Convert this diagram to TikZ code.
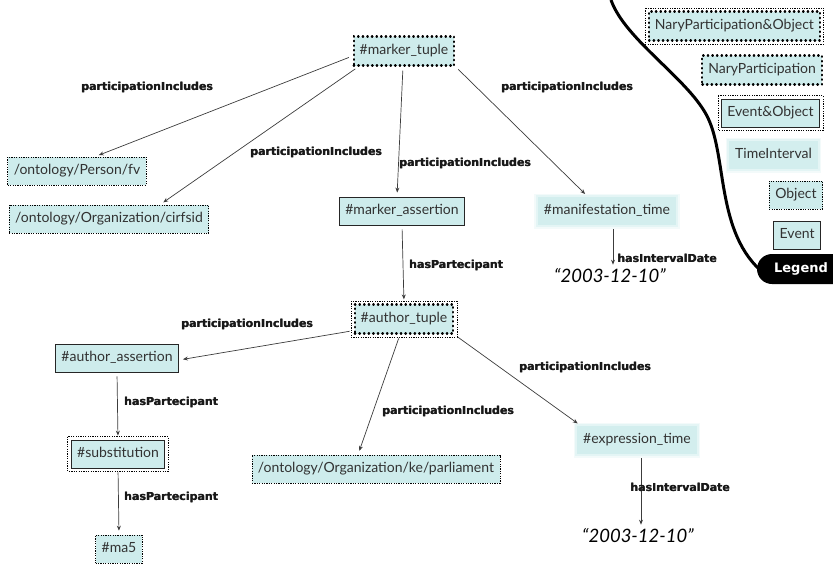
\documentclass[tikz,border=0pt]{standalone}
\usepackage{fontspec}
\setmainfont{Lato}
\newfontfamily\lblfont{DejaVu Sans}
\usetikzlibrary{arrows.meta,calc}
\definecolor{boxc}{RGB}{206,236,236}
\definecolor{txtc}{RGB}{50,50,50}
\definecolor{edgec}{RGB}{60,60,60}
% a heavier look for the bold connector labels: print the text twice, slightly offset
\newcommand{\heavytext}[1]{\rlap{\kern0.4pt #1}#1}

\begin{document}
\begin{tikzpicture}[x=1pt,y=-1pt,
  base/.style={font=\fontsize{14}{16}\selectfont, text=txtc, inner xsep=6pt, inner ysep=0pt,
    minimum height=28pt, fill=boxc, text height=10.5pt, text depth=3pt},
  eventbox/.style={base, draw=black!85, line width=0.8pt},
  objbox/.style={base, draw=black, line width=0.7pt, dash pattern=on 1.2pt off 1.2pt},
  narybox/.style={base, draw=black, line width=2.2pt, dash pattern=on 0.6pt off 4pt, line cap=round, minimum height=29pt},
  timebox/.style={base, fill=boxc!90, preaction={draw=boxc!25, line width=7pt}, preaction={draw=boxc!55, line width=3.5pt}},
  outerdots/.style={draw=black, line width=0.7pt, dash pattern=on 1.2pt off 1.2pt},
  lbl/.style={font=\lblfont\bfseries\fontsize{11}{13}\selectfont, text=black!90, inner sep=0pt},
  datelbl/.style={font=\itshape\fontsize{18.5}{22}\selectfont, text=black, inner sep=0pt},
  arr/.style={draw=edgec, line width=0.7pt, -{Stealth[length=5pt,width=4pt]}, shorten >=4pt, shorten <=4pt},
]
\useasboundingbox (0,0) rectangle (833,566);

% ---------- nodes ----------
\node[narybox] (mt) at (404,51) {\#marker\_tuple};
\node[objbox] (pfv) at (77,171) {/ontology/Person/fv};
\node[objbox] (cir) at (109,219) {/ontology/Organization/cirfsid};
\node[eventbox] (ma) at (402,211) {\#marker\_assertion};
\node[timebox] (mft) at (607,211) {\#manifestation\_time};
\node[datelbl] (d1) at (610,276) {“2003-12-10”};
\node[narybox] (at) at (404,319) {\#author\_tuple};
\draw[outerdots] ([shift={(-2.5pt,2.5pt)}]at.north west) rectangle ([shift={(2.5pt,-2.5pt)}]at.south east);
\node[eventbox] (aa) at (117,358) {\#author\_assertion};
\node[eventbox] (sub) at (118,454) {\#substitution};
\draw[outerdots] ([shift={(-3pt,3pt)}]sub.north west) rectangle ([shift={(3pt,-3pt)}]sub.south east);
\node[objbox] (ma5) at (119,549) {\#ma5};
\node[objbox] (parl) at (376,469) {/ontology/Organization/ke/parliament};
\node[timebox] (et) at (637,440) {\#expression\_time};
\node[datelbl] (d2) at (638,536) {“2003-12-10”};

% ---------- connectors ----------
\draw[arr] ([yshift=-5pt]mt.west) -- ([xshift=18pt]pfv.north);
\draw[arr] ([xshift=6pt]mt.south west) -- ([xshift=51pt]cir.north);
\draw[arr] ([xshift=-1pt]mt.south) -- ([xshift=-5pt]ma.north);
\draw[arr] (mt.south east) -- ([xshift=-19pt]mft.north);
\draw[arr] (ma.south) -- (at.north);
\draw[arr] ([xshift=6pt]mft.south) -- ([xshift=6pt]mft.south |- d1.north);
\draw[arr] ([yshift=4pt]at.south west) -- ([yshift=-2pt]aa.east);
\draw[arr] ([xshift=-4pt]at.south) -- ([xshift=-18pt]parl.north);
\draw[arr] (at.south east) -- ([xshift=4pt]et.north west);
\draw[arr] (aa.south) -- (sub.north);
\draw[arr] (sub.south) -- (ma5.north);
\draw[arr] ([xshift=4pt]et.south) -- ([xshift=4pt]et.south |- d2.north);

% ---------- connector labels ----------
\node[lbl] (l1) at (147,87) {\heavytext{participationIncludes}};
\node[lbl] (l2) at (316,152) {\heavytext{participationIncludes}};
\node[lbl] (l3) at (465,163) {\heavytext{participationIncludes}};
\node[lbl] (l4) at (567,87) {\heavytext{participationIncludes}};
\node[lbl] (l5) at (456,265) {\heavytext{hasPartecipant}};
\node[lbl] (l6) at (667,258) {\heavytext{hasIntervalDate}};
\node[lbl] (l7) at (247,324) {\heavytext{participationIncludes}};
\node[lbl] (l8) at (171,402) {\heavytext{hasPartecipant}};
\node[lbl] (l9) at (448,411) {\heavytext{participationIncludes}};
\node[lbl] (l10) at (585,367) {\heavytext{participationIncludes}};
\node[lbl] (l11) at (171,497) {\heavytext{hasPartecipant}};
\node[lbl] (l12) at (680,487) {\heavytext{hasIntervalDate}};

% ---------- legend ----------
\draw[line width=3pt] (611,0) .. controls (625,40) and (690,80) .. (708,118)
  .. controls (728,160) and (715,240) .. (770,278);
\fill[black] (833,254) -- (772,254) arc[start angle=270, end angle=90, radius=15] -- (833,284) -- cycle;
\node[font=\lblfont\bfseries\fontsize{13}{15}\selectfont, text=white, inner sep=0pt] (legtitle) at (801,269) {Legend};

\node[narybox, anchor=east] (kno) at (821,26) {NaryParticipation\&Object};
\draw[outerdots] ([shift={(-2.5pt,2.5pt)}]kno.north west) rectangle ([shift={(2.5pt,-2.5pt)}]kno.south east);
\node[narybox, anchor=east] (kn) at (823,70) {NaryParticipation};
\node[eventbox, anchor=east] (keo) at (820,113) {Event\&Object};
\draw[outerdots] ([shift={(-3pt,3pt)}]keo.north west) rectangle ([shift={(3pt,-3pt)}]keo.south east);
\node[timebox, anchor=east] (kt) at (818,155) {TimeInterval};
\node[objbox, anchor=east] (ko) at (823,195) {Object};
\node[eventbox, anchor=east] (ke) at (821,235) {Event};
\end{tikzpicture}
\end{document}
